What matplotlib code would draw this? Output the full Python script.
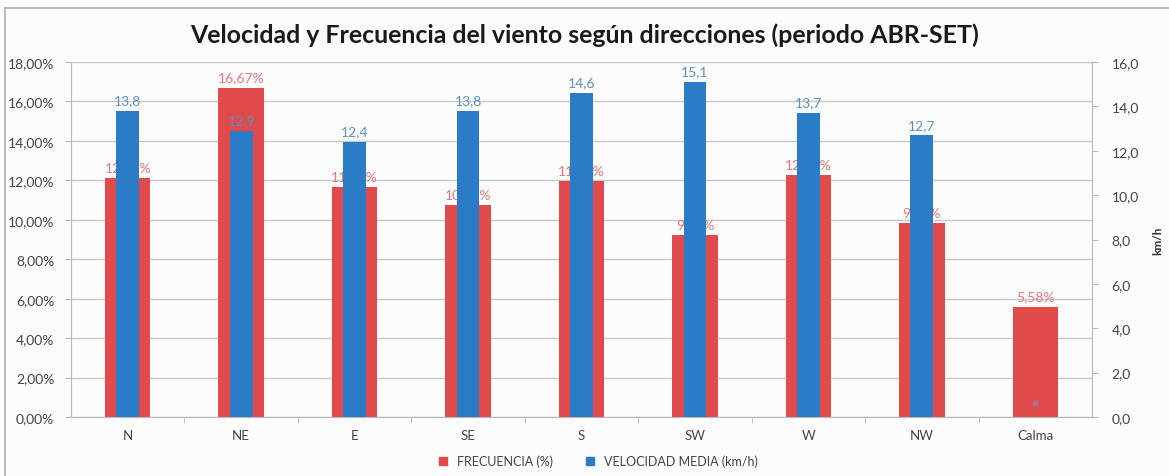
import matplotlib
matplotlib.use("Agg")
import matplotlib.pyplot as plt
from matplotlib.lines import Line2D
from matplotlib.ticker import FuncFormatter

direcciones = ["N", "NE", "E", "SE", "S", "SW", "W", "NW", "Calma"]
frecuencia = [12.13, 16.67, 11.64, 10.75, 11.95, 9.23, 12.25, 9.84, 5.58]
velocidad = [13.8, 12.9, 12.4, 13.8, 14.6, 15.1, 13.7, 12.7, None]

ROJO = "#e04a4a"
AZUL = "#2b7cc6"

plt.rcParams["font.family"] = ["Lato", "DejaVu Sans"]

fig = plt.figure(figsize=(11.69, 4.77), dpi=100)
fig.patch.set_facecolor("#fcfcfc")
ax = fig.add_axes([71 / 1169, 1 - 418 / 477, (1092 - 71) / 1169, (418 - 63) / 477])
ax.set_facecolor("#fcfcfc")
ax2 = ax.twinx()

x = list(range(len(direcciones)))
ax.bar(x, frecuencia, width=0.40, color=ROJO, zorder=2)
for xi, f in zip(x, frecuencia):
    ax.text(xi, f + 0.25, f"{f:.2f}%".replace(".", ","), ha="center", va="bottom",
            fontsize=10, color="#e07878", zorder=3)

vx = [xi for xi, v in zip(x, velocidad) if v is not None]
vv = [v for v in velocidad if v is not None]
ax2.bar(vx, vv, width=0.20, color=AZUL, zorder=2)
for xi, v in zip(vx, vv):
    ax2.text(xi, v + 0.2, f"{v:.1f}".replace(".", ","), ha="center", va="bottom",
             fontsize=10, color="#5e8fbf")
ax2.plot([8], [0.65], "o", ms=3.5, color="#a07fa8", alpha=0.7)

ax.set_xlim(-0.5, 8.5)
ax.set_ylim(0, 18)
ax.set_yticks(range(0, 19, 2))
ax.yaxis.set_major_formatter(FuncFormatter(lambda v, p: f"{v:.2f}%".replace(".", ",")))
ax2.set_ylim(0, 16)
ax2.set_yticks(range(0, 17, 2))
ax2.yaxis.set_major_formatter(FuncFormatter(lambda v, p: f"{v:.1f}".replace(".", ",")))
ax.set_xticks(x)
ax.set_xticklabels(direcciones)
ax.set_xticks([i + 0.5 for i in x[:-1]], minor=True)

ax.grid(axis="y", color="#c8c8c8", linewidth=1, zorder=0)
ax.set_axisbelow(True)
for a in (ax, ax2):
    for s in a.spines.values():
        s.set_visible(False)
ax.spines["left"].set_visible(True)
ax.spines["bottom"].set_visible(True)
ax2.spines["right"].set_visible(True)
for s in (ax.spines["left"], ax.spines["bottom"], ax2.spines["right"]):
    s.set_color("#b8b8b8")
ax.tick_params(axis="y", length=4, color="#b8b8b8", labelsize=10, labelcolor="#444444", pad=8)
ax.tick_params(axis="x", which="major", length=0, labelsize=9.5, labelcolor="#444444", pad=9)
ax.tick_params(axis="x", which="minor", length=4, color="#b8b8b8")
ax2.tick_params(axis="y", length=4, color="#b8b8b8", labelsize=10, labelcolor="#444444", pad=10)
ax2.set_ylabel("km/h", fontsize=8.5, fontweight="bold", color="#333333", labelpad=10)

fig.text(0.5, 1 - 35 / 477,
         "Velocidad y Frecuencia del viento según direcciones (periodo ABR-SET)",
         ha="center", va="center", fontsize=17.9, fontweight="bold", color="#1a1a1a")

handles = [Line2D([], [], marker="s", ls="", ms=6, color=ROJO),
           Line2D([], [], marker="s", ls="", ms=6, color=AZUL)]
fig.legend(handles, ["FRECUENCIA (%)", "VELOCIDAD MEDIA (km/h)"], loc="center",
           bbox_to_anchor=(594 / 1169, 1 - 462 / 477), ncol=2, frameon=False,
           fontsize=9, handletextpad=0.1, columnspacing=2.0, labelcolor="#444444")

# marco del gráfico (bordes izquierdo y superior)
fig.add_artist(Line2D([5 / 1169, 5 / 1169], [0, 1 - 9 / 477], color="#b0b0b0", lw=1.2))
fig.add_artist(Line2D([5 / 1169, 1], [1 - 9 / 477, 1 - 9 / 477], color="#b0b0b0", lw=1.2))

fig.savefig("out.png", dpi=100, facecolor=fig.get_facecolor())
